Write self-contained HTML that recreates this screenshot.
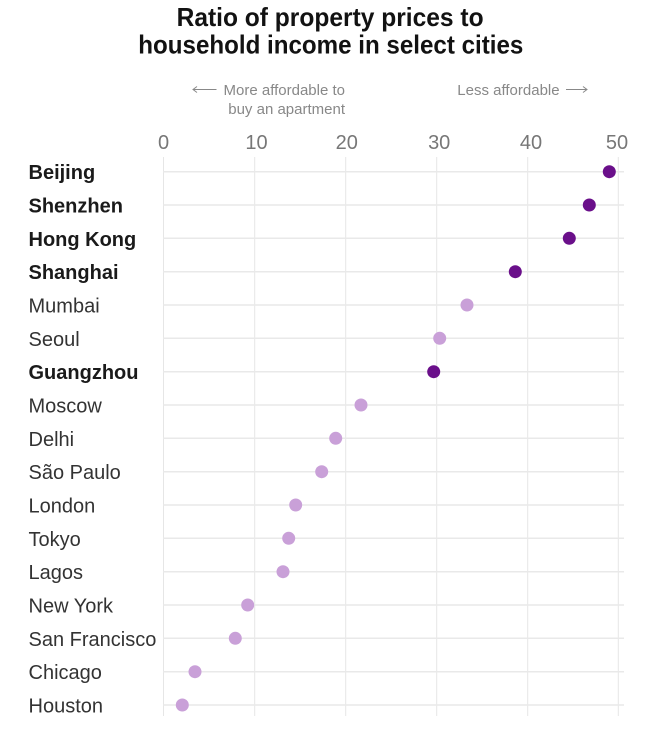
<!DOCTYPE html>
<html>
<head>
<meta charset="utf-8">
<style>
  html, body { margin: 0; padding: 0; background: #ffffff; }
  body { width: 656px; height: 738px; overflow: hidden; }
  svg { display: block; }
  text { font-family: "Liberation Sans", "DejaVu Sans", sans-serif; }
</style>
</head>
<body>
<svg width="656" height="738" viewBox="0 0 656 738" xmlns="http://www.w3.org/2000/svg">
  <rect width="656" height="738" fill="#ffffff"/>

  <!-- Title -->
  <text x="176.6" y="26" font-size="26" font-weight="bold" fill="#121212" textLength="307" lengthAdjust="spacingAndGlyphs">Ratio of property prices to</text>
  <text x="138.3" y="53.5" font-size="26" font-weight="bold" fill="#121212" textLength="385" lengthAdjust="spacingAndGlyphs">household income in select cities</text>

  <!-- Annotations -->
  <g fill="#888888" font-size="15">
    <text x="345" y="95" text-anchor="end">More affordable to</text>
    <text x="345" y="114" text-anchor="end">buy an apartment</text>
    <text x="457.3" y="95">Less affordable</text>
  </g>
  <g stroke="#888888" stroke-width="1" fill="none">
    <path d="M193 89.5 H216.5"/>
    <path d="M197 86.5 L193 89.5 L197 92.5"/>
    <path d="M566 89.5 H587"/>
    <path d="M583 86.5 L587 89.5 L583 92.5"/>
  </g>

  <!-- Tick labels -->
  <g fill="#777777" font-size="20" text-anchor="middle">
    <text x="163.5" y="149">0</text>
    <text x="256.5" y="149">10</text>
    <text x="346.8" y="149">20</text>
    <text x="439.2" y="149">30</text>
    <text x="531" y="149">40</text>
    <text x="617" y="149">50</text>
  </g>

  <!-- Vertical gridlines -->
  <g stroke="#e6e6e6" stroke-width="1">
    <line x1="163.5" y1="157" x2="163.5" y2="716"/>
    <line x1="254.7" y1="157" x2="254.7" y2="716"/>
    <line x1="345.7" y1="157" x2="345.7" y2="716"/>
    <line x1="436.7" y1="157" x2="436.7" y2="716"/>
    <line x1="527.7" y1="157" x2="527.7" y2="716"/>
    <line x1="618.3" y1="157" x2="618.3" y2="716"/>
  </g>

  <!-- Horizontal row lines -->
  <g stroke="#e9e9e9" stroke-width="1.5">
    <line x1="163" y1="171.7" x2="624" y2="171.7"/>
    <line x1="163" y1="205.0" x2="624" y2="205.0"/>
    <line x1="163" y1="238.3" x2="624" y2="238.3"/>
    <line x1="163" y1="271.7" x2="624" y2="271.7"/>
    <line x1="163" y1="305.0" x2="624" y2="305.0"/>
    <line x1="163" y1="338.3" x2="624" y2="338.3"/>
    <line x1="163" y1="371.7" x2="624" y2="371.7"/>
    <line x1="163" y1="405.0" x2="624" y2="405.0"/>
    <line x1="163" y1="438.3" x2="624" y2="438.3"/>
    <line x1="163" y1="471.7" x2="624" y2="471.7"/>
    <line x1="163" y1="505.0" x2="624" y2="505.0"/>
    <line x1="163" y1="538.3" x2="624" y2="538.3"/>
    <line x1="163" y1="571.7" x2="624" y2="571.7"/>
    <line x1="163" y1="605.0" x2="624" y2="605.0"/>
    <line x1="163" y1="638.3" x2="624" y2="638.3"/>
    <line x1="163" y1="671.7" x2="624" y2="671.7"/>
    <line x1="163" y1="705.0" x2="624" y2="705.0"/>
  </g>

  <!-- City labels -->
  <g font-size="20">
    <text x="28.5" y="179.2" font-weight="bold" fill="#1a1a1a">Beijing</text>
    <text x="28.5" y="212.5" font-weight="bold" fill="#1a1a1a">Shenzhen</text>
    <text x="28.5" y="245.8" font-weight="bold" fill="#1a1a1a">Hong Kong</text>
    <text x="28.5" y="279.2" font-weight="bold" fill="#1a1a1a">Shanghai</text>
    <text x="28.5" y="312.5" fill="#333333">Mumbai</text>
    <text x="28.5" y="345.8" fill="#333333">Seoul</text>
    <text x="28.5" y="379.2" font-weight="bold" fill="#1a1a1a">Guangzhou</text>
    <text x="28.5" y="412.5" fill="#333333">Moscow</text>
    <text x="28.5" y="445.8" fill="#333333">Delhi</text>
    <text x="28.5" y="479.2" fill="#333333">São Paulo</text>
    <text x="28.5" y="512.5" fill="#333333">London</text>
    <text x="28.5" y="545.8" fill="#333333">Tokyo</text>
    <text x="28.5" y="579.2" fill="#333333">Lagos</text>
    <text x="28.5" y="612.5" fill="#333333">New York</text>
    <text x="28.5" y="645.8" fill="#333333">San Francisco</text>
    <text x="28.5" y="679.2" fill="#333333">Chicago</text>
    <text x="28.5" y="712.5" fill="#333333">Houston</text>
  </g>

  <!-- Dots -->
  <g fill="#6a0f8a">
    <circle cx="609.3" cy="171.7" r="6.5"/>
    <circle cx="589.3" cy="205.0" r="6.5"/>
    <circle cx="569.3" cy="238.3" r="6.5"/>
    <circle cx="515.3" cy="271.7" r="6.5"/>
    <circle cx="433.7" cy="371.7" r="6.5"/>
  </g>
  <g fill="#c9a0d8">
    <circle cx="467.0" cy="305.0" r="6.5"/>
    <circle cx="439.7" cy="338.3" r="6.5"/>
    <circle cx="361.0" cy="405.0" r="6.5"/>
    <circle cx="335.7" cy="438.3" r="6.5"/>
    <circle cx="321.7" cy="471.7" r="6.5"/>
    <circle cx="295.7" cy="505.0" r="6.5"/>
    <circle cx="288.7" cy="538.3" r="6.5"/>
    <circle cx="283.0" cy="571.7" r="6.5"/>
    <circle cx="247.7" cy="605.0" r="6.5"/>
    <circle cx="235.3" cy="638.3" r="6.5"/>
    <circle cx="195.0" cy="671.7" r="6.5"/>
    <circle cx="182.3" cy="705.0" r="6.5"/>
  </g>
</svg>
</body>
</html>
